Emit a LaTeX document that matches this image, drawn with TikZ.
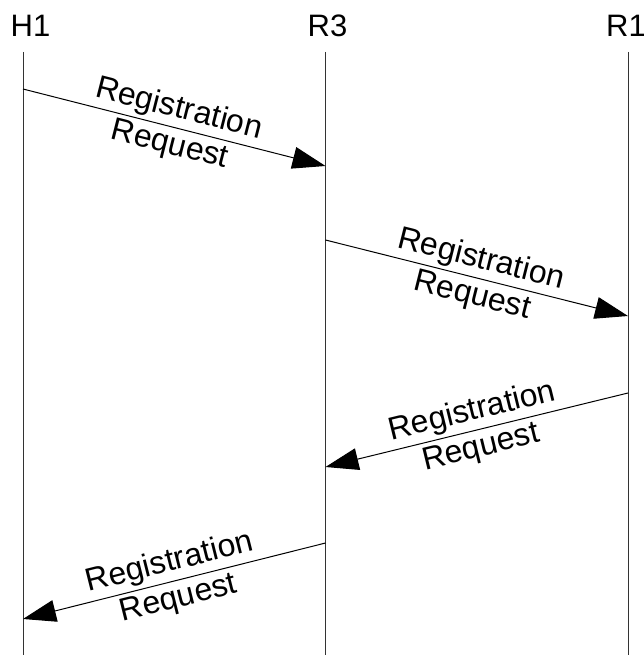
\documentclass[tikz,border=0pt]{standalone}
\usepackage{fontspec}
\setmainfont{Liberation Sans}
\usetikzlibrary{arrows.meta}
\begin{document}
\begin{tikzpicture}[x=1pt,y=-1pt,
  lifeline/.style={line width=1pt, draw=black!80},
  msg/.style={line width=1pt, -{Triangle[length=33pt,width=22pt]}},
  hdr/.style={font=\fontsize{31}{36}\selectfont, anchor=base, inner sep=0pt},
  lbl/.style={font=\fontsize{32}{37}\selectfont, align=center, sloped, inner sep=0pt}]
\useasboundingbox (0,0) rectangle (644,655);
% headers
\node[hdr] (H1) at (30.5,36.5) {H1};
\node[hdr] (R3) at (327.5,36.5) {R3};
\node[hdr] (R1) at (626,36.5) {R1};
% lifelines
\coordinate (h1t) at (23,52);   \coordinate (h1b) at (23,655);
\coordinate (r3t) at (325.5,52); \coordinate (r3b) at (325.5,655);
\coordinate (r1t) at (628,52);  \coordinate (r1b) at (628,655);
\draw[lifeline] (h1t) -- (h1b);
\draw[lifeline] (r3t) -- (r3b);
\draw[lifeline] (r1t) -- (r1b);
% message endpoints
\coordinate (m1s) at (23,89);    \coordinate (m1e) at (325.5,166);
\coordinate (m2s) at (325.5,240); \coordinate (m2e) at (628,316);
\coordinate (m3s) at (628,393);  \coordinate (m3e) at (325.5,467);
\coordinate (m4s) at (325.5,543); \coordinate (m4e) at (23,619);
\draw[msg] (m1s) -- node[lbl] (l1) {Registration\\Request} (m1e);
\draw[msg] (m2s) -- node[lbl] (l2) {Registration\\Request} (m2e);
\draw[msg] (m3s) -- node[lbl] (l3) {Registration\\Request} (m3e);
\draw[msg] (m4s) -- node[lbl] (l4) {Registration\\Request} (m4e);
\end{tikzpicture}
\end{document}
